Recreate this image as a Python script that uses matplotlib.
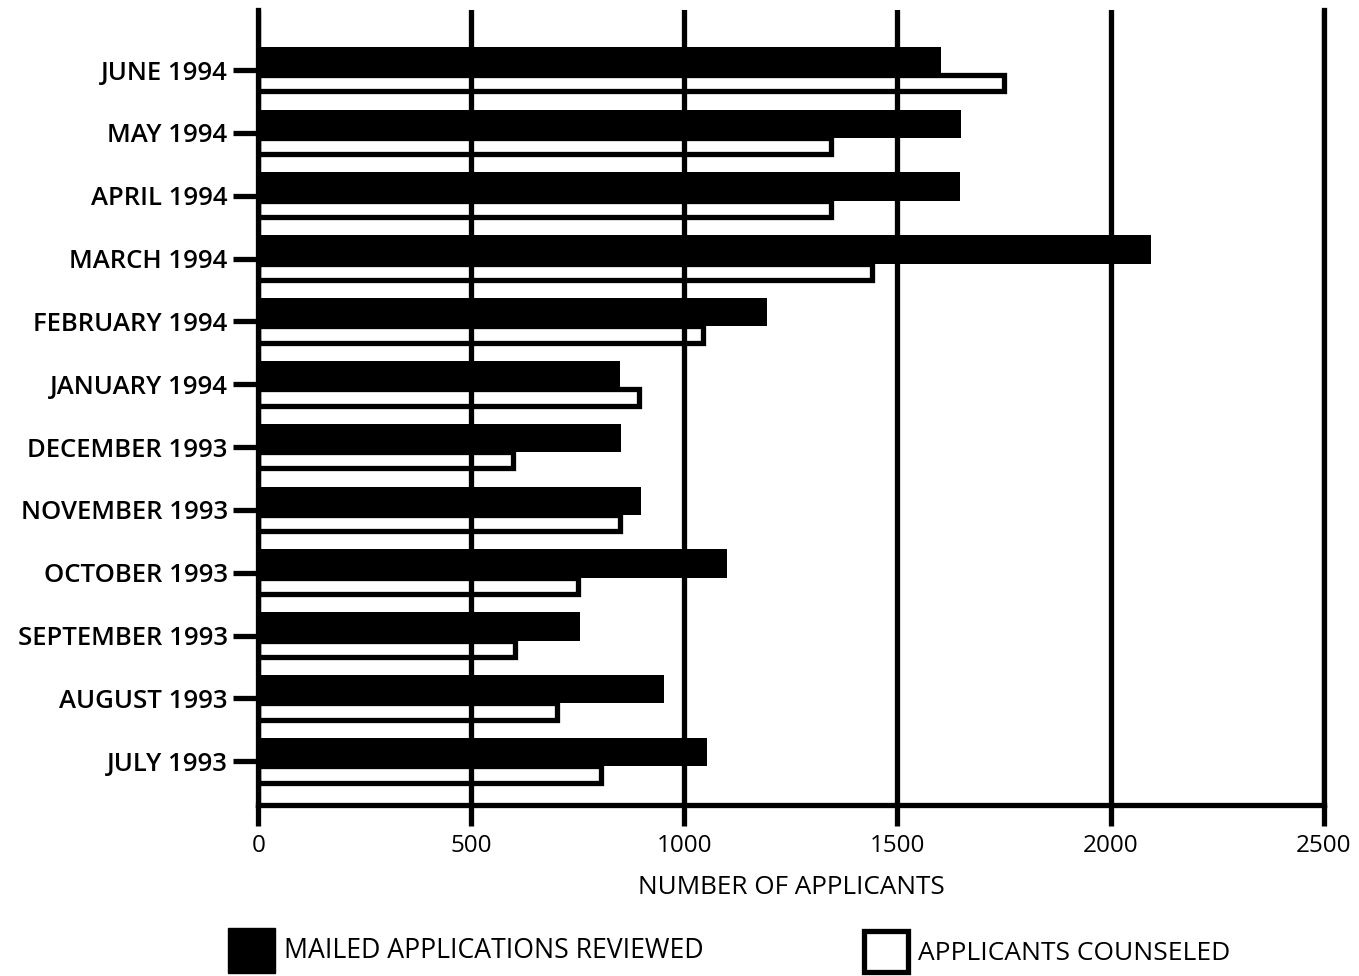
import numpy as np
import matplotlib
matplotlib.use("Agg")
import matplotlib.pyplot as plt
from matplotlib.patches import Rectangle

plt.rcParams['font.family'] = ['Open Sans', 'DejaVu Sans']

# bottom to top: July 1993 ... June 1994
months = ['JULY 1993', 'AUGUST 1993', 'SEPTEMBER 1993', 'OCTOBER 1993',
          'NOVEMBER 1993', 'DECEMBER 1993', 'JANUARY 1994', 'FEBRUARY 1994',
          'MARCH 1994', 'APRIL 1994', 'MAY 1994', 'JUNE 1994']
mailed_reviewed = [1052, 953, 755, 1101, 899, 852, 849, 1194, 2095, 1646, 1648, 1603]
counseled = [805, 701, 602, 750, 849, 598, 893, 1044, 1441, 1343, 1345, 1749]
xticks = [0, 500, 1000, 1500, 2000, 2500]

LW = 3.8

fig = plt.figure(figsize=(13.59, 9.76), dpi=100)
ax = fig.add_axes([0.19, 0.175, 0.784, 0.815])

y = np.arange(len(months))
ax.barh(y + 0.145, mailed_reviewed, height=0.45, color='black', zorder=2)
ax.barh(y - 0.21, counseled, height=0.26, color='white', edgecolor='black',
        linewidth=LW, zorder=1)

ax.set_xlim(0, 2500)
ax.set_ylim(-0.70, 11.96)

ax.set_xticks(xticks)
ax.set_xticklabels([str(t) for t in xticks], fontsize=17.5)
ax.set_yticks(y)
ax.set_yticklabels(months, fontsize=18.5, fontweight='semibold')

ax.tick_params(axis='y', length=18, width=LW, pad=4, direction='out')
ax.tick_params(axis='x', length=15, width=LW, pad=6, direction='out')

ax.xaxis.grid(True, color='black', linewidth=LW)
ax.set_axisbelow(False)

for side in ['left', 'bottom', 'right']:
    ax.spines[side].set_linewidth(LW)
ax.spines['top'].set_visible(False)

ax.set_xlabel('NUMBER OF APPLICANTS', fontsize=18.8, labelpad=12)

# legend drawn as loose boxes under the axis
fig.patches.append(Rectangle((228 / 1359, 1 - 973 / 976), 47 / 1359, 45 / 976,
                             transform=fig.transFigure, facecolor='black',
                             edgecolor='black', linewidth=1))
fig.text(284 / 1359, 1 - 951 / 976, 'MAILED APPLICATIONS REVIEWED',
         fontsize=19.2, va='center', ha='left')
fig.patches.append(Rectangle((864 / 1359, 1 - 972 / 976), 44 / 1359, 41 / 976,
                             transform=fig.transFigure, facecolor='white',
                             edgecolor='black', linewidth=LW))
fig.text(918 / 1359, 1 - 953 / 976, 'APPLICANTS COUNSELED',
         fontsize=19, va='center', ha='left')

fig.savefig('out.png', dpi=100)
